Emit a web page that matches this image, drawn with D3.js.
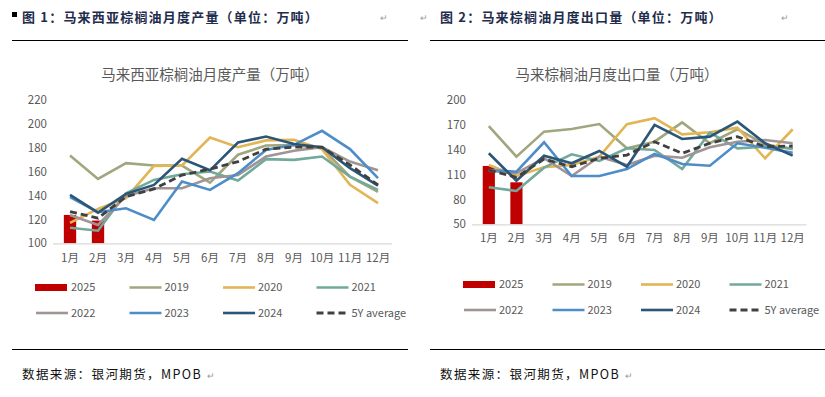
<!DOCTYPE html>
<meta charset="utf-8">
<html>
<head>
  <title>马来西亚棕榈油产量与出口</title>
  <style>
    body { margin: 0; background: #fff; }
    text { font-family: "Noto Sans CJK SC", "Noto Sans", sans-serif; }
  </style>
</head>
<body>
  <script src="https://d3js.org/d3.v7.js"></script>
  <div id="page"></div>
  <script>
    var months = ["1月", "2月", "3月", "4月", "5月", "6月", "7月", "8月", "9月", "10月", "11月", "12月"];

    // 产量（万吨）
    var prod2025 = [123.7, 119];
    var prod2019 = [173.3, 153.8, 167, 165, 165, 150.7, 174, 181.7, 182, 179.5, 155.7, 143];
    var prod2020 = [117, 128.7, 137.7, 164.7, 165, 188.4, 180.3, 186, 186.5, 178.7, 148.8, 133.5];
    var prod2021 = [113, 110.5, 141.8, 153, 157.7, 160, 152.4, 170.3, 169.7, 172.5, 155.7, 144.6];
    var prod2022 = [123.7, 115.3, 139.6, 146, 146, 154.4, 157, 172.5, 177.3, 180.3, 168.3, 161];
    var prod2023 = [138.5, 126, 129.3, 119.5, 151.6, 144.6, 158.6, 178, 182.3, 194, 178.7, 154.4];
    var prod2024 = [140.4, 125.6, 141.3, 148.8, 170.6, 161, 184.2, 189.2, 183, 180.3, 162.8, 148.2];
    var prodAvg = [126.5, 121, 139, 145.4, 157, 162, 168.3, 178.7, 180.3, 180.3, 165.5, 148.8];
    var prodTicks = [100, 120, 140, 160, 180, 200, 220];

    // 出口量（万吨）
    var exp2025 = [120.4, 100.7];
    var exp2019 = [168.6, 131.6, 161.8, 165, 171, 141.7, 149.7, 173, 147.8, 164.7, 146.5, 140.5];
    var exp2020 = [121.6, 108.3, 118.8, 121.6, 131.6, 170.7, 178, 158.6, 161, 166.6, 129.7, 164.7];
    var exp2021 = [94.7, 90.2, 118.3, 134.5, 126.4, 141.7, 139.7, 116.7, 160.6, 141.7, 143.7, 141.7];
    var exp2022 = [114.7, 111.6, 129.7, 108.3, 131.6, 121.6, 132.8, 130.4, 143, 149.7, 151.7, 147.8];
    var exp2023 = [115.5, 113.5, 149, 108.3, 108.3, 116.7, 134.9, 122.8, 120.7, 147.8, 142.5, 136.4];
    var exp2024 = [135.7, 102.6, 132.8, 123.6, 138.5, 119.5, 169.9, 153, 155.8, 173.9, 147.8, 132.8];
    var expAvg = [115.5, 106.7, 128.8, 119.5, 129.7, 133.6, 149.7, 135.7, 147.8, 155.8, 143.7, 144.5];
    var expTicks = [50, 80, 110, 140, 170, 200];

    var seriesNames = ["2019", "2020", "2021", "2022", "2023", "2024"];
    var seriesColors = ["#A0A77E", "#E2B555", "#72A99B", "#A09495", "#4E8DC7", "#2B5677"];
    var barColor = "#C00000";
    var avgColor = "#404040";

    var svg = d3.select("#page").append("svg")
      .attr("width", 825)
      .attr("height", 397);

    // header / footer text of the document page
    function pageText(x, textX, title) {
      svg.append("text")
        .attr("x", textX).attr("y", 22)
        .attr("font-size", 13).attr("font-weight", "bold")
        .attr("letter-spacing", 1.2)
        .attr("fill", "#1F2D4D")
        .text(title);
      svg.append("line")
        .attr("x1", x).attr("x2", x + 396)
        .attr("y1", 40.5).attr("y2", 40.5)
        .attr("stroke", "#000").attr("stroke-width", 1.2);
      svg.append("line")
        .attr("x1", x).attr("x2", x + 396)
        .attr("y1", 349.5).attr("y2", 349.5)
        .attr("stroke", "#000").attr("stroke-width", 1.2);
      svg.append("text")
        .attr("x", x + 10).attr("y", 379)
        .attr("font-size", 12.5)
        .attr("letter-spacing", 1.4)
        .attr("fill", "#111")
        .text("数据来源：银河期货，MPOB");
      svg.append("text")
        .attr("x", x + 195).attr("y", 379)
        .attr("font-size", 9).attr("fill", "#999")
        .text("↵");
    }
    pageText(12, 22, "图 1：马来西亚棕榈油月度产量（单位：万吨）");
    svg.append("rect").attr("x", 12).attr("y", 12).attr("width", 5).attr("height", 5).attr("fill", "#000");
    svg.append("text").attr("x", 380).attr("y", 21).attr("font-size", 9).attr("fill", "#999").text("↵");
    pageText(430, 440, "图 2：马来棕榈油月度出口量（单位：万吨）");
    svg.append("text").attr("x", 420).attr("y", 21).attr("font-size", 9).attr("fill", "#999").text("↵");
    svg.append("text").attr("x", 781).attr("y", 21).attr("font-size", 9).attr("fill", "#999").text("↵");

    function drawChart(cfg) {
      var g = svg.append("g");

      g.append("text")
        .attr("x", cfg.titleX).attr("y", 80)
        .attr("text-anchor", "middle")
        .attr("font-size", 14.5)
        .attr("fill", "#595959")
        .text(cfg.title);

      var x = d3.scaleBand()
        .domain(months)
        .range([cfg.left, cfg.right])
        .paddingInner(0.56)
        .paddingOuter(0.28);

      var y = d3.scaleLinear()
        .domain(cfg.domain)
        .range([cfg.bottom, cfg.top]);

      var cx = function (i) { return x(months[i]) + x.bandwidth() / 2; };

      // y axis labels
      var yAxis = g.append("g")
        .attr("transform", "translate(" + (cfg.left - 9) + ",0)")
        .call(d3.axisLeft(y).tickValues(cfg.ticks).tickSize(0).tickPadding(0));
      yAxis.select(".domain").remove();
      yAxis.selectAll("text")
        .attr("font-size", 11.5)
        .attr("fill", "#595959")
        .style("font-family", "'Noto Sans CJK SC', sans-serif");

      // bars 2025
      g.selectAll(".bar")
        .data(cfg.bars)
        .enter().append("rect")
        .attr("x", function (d, i) { return x(months[i]); })
        .attr("y", function (d) { return y(d); })
        .attr("width", x.bandwidth())
        .attr("height", function (d) { return cfg.bottom - y(d); })
        .attr("fill", barColor);

      // x axis
      var xAxis = g.append("g")
        .attr("transform", "translate(0," + cfg.bottom + ")")
        .call(d3.axisBottom(x).tickSize(0).tickPadding(cfg.xPad));
      xAxis.select(".domain")
        .attr("stroke", "#D9D9D9").attr("stroke-width", 1.2)
        .attr("d", "M" + (cfg.left - 3) + ",0.5H" + (cfg.right));
      xAxis.selectAll("text")
        .attr("font-size", 11.5)
        .attr("fill", "#595959")
        .style("font-family", "'Noto Sans CJK SC', sans-serif");

      var line = d3.line()
        .x(function (d, i) { return cx(i); })
        .y(function (d) { return y(d); });

      cfg.lines.forEach(function (s, k) {
        g.append("path")
          .datum(s)
          .attr("d", line)
          .attr("fill", "none")
          .attr("stroke", seriesColors[k])
          .attr("stroke-width", 2.6)
          .attr("stroke-linejoin", "miter");
      });

      g.append("path")
        .datum(cfg.avg)
        .attr("d", line)
        .attr("fill", "none")
        .attr("stroke", avgColor)
        .attr("stroke-width", 2.8)
        .attr("stroke-dasharray", "7,4");

      // legend
      var items = [{ name: "2025", type: "bar", color: barColor }];
      seriesNames.forEach(function (n, k) {
        items.push({ name: n, type: "line", color: seriesColors[k] });
      });
      items.push({ name: "5Y average", type: "dash", color: avgColor });

      items.forEach(function (it, i) {
        var col = i % 4, row = Math.floor(i / 4);
        var lx = cfg.legX + col * cfg.legStep;
        var ly = cfg.legY + row * cfg.legRow;
        if (it.type == "bar") {
          g.append("rect")
            .attr("x", lx).attr("y", ly - 3.5)
            .attr("width", 32).attr("height", 7)
            .attr("fill", it.color);
        } else {
          g.append("line")
            .attr("x1", lx + 1).attr("x2", lx + 33)
            .attr("y1", ly).attr("y2", ly)
            .attr("stroke", it.color)
            .attr("stroke-width", it.type == "dash" ? 2.8 : 2.6)
            .attr("stroke-dasharray", it.type == "dash" ? "7,4" : null);
        }
        g.append("text")
          .attr("x", lx + 36).attr("y", ly)
          .attr("dy", "0.35em")
          .attr("font-size", 11)
          .attr("fill", "#595959")
          .text(it.name);
      });
    }

    drawChart({
      title: "马来西亚棕榈油月度产量（万吨）",
      titleX: 210,
      left: 56, right: 392, top: 99.7, bottom: 243.3,
      domain: [100, 220], ticks: prodTicks,
      bars: prod2025,
      lines: [prod2019, prod2020, prod2021, prod2022, prod2023, prod2024],
      avg: prodAvg,
      xPad: 11,
      legX: 35, legY: 287.5, legStep: 93.5, legRow: 25.5
    });

    drawChart({
      title: "马来棕榈油月度出口量（万吨）",
      titleX: 617,
      left: 475, right: 806.5, top: 100, bottom: 224.3,
      domain: [50, 200], ticks: expTicks,
      bars: exp2025,
      lines: [exp2019, exp2020, exp2021, exp2022, exp2023, exp2024],
      avg: expAvg,
      xPad: 10,
      legX: 463, legY: 284.5, legStep: 88.5, legRow: 25.5
    });
  </script>
</body>
</html>
